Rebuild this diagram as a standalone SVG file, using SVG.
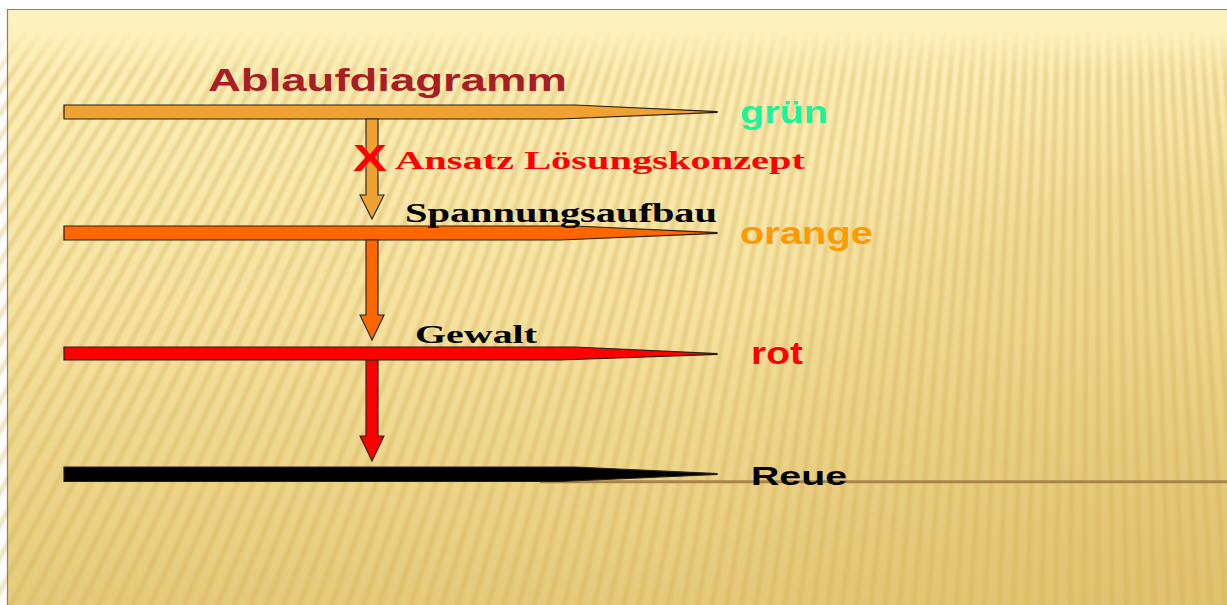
<svg xmlns="http://www.w3.org/2000/svg" width="1227" height="605" viewBox="0 0 1227 605">
  <defs>
    <linearGradient id="bg" x1="0" y1="9" x2="0" y2="605" gradientUnits="userSpaceOnUse">
      <stop offset="0" stop-color="#FDF2C0"/>
      <stop offset="0.1" stop-color="#FCEEB7"/>
      <stop offset="0.5" stop-color="#F6E3A2"/>
      <stop offset="1" stop-color="#E5CA7A"/>
    </linearGradient>
    <radialGradient id="shade" cx="1180" cy="560" r="520" gradientUnits="userSpaceOnUse">
      <stop offset="0" stop-color="#D8B860" stop-opacity="0.45"/>
      <stop offset="0.7" stop-color="#DDBE68" stop-opacity="0.25"/>
      <stop offset="1" stop-color="#E0C270" stop-opacity="0"/>
    </radialGradient>
    <linearGradient id="fadeTop" x1="0" y1="30" x2="0" y2="75" gradientUnits="userSpaceOnUse">
      <stop offset="0" stop-color="#000"/>
      <stop offset="1" stop-color="#fff"/>
    </linearGradient>
    <mask id="stripeMask">
      <rect x="0" y="0" width="1227" height="605" fill="url(#fadeTop)"/>
    </mask>
    <filter id="soft" x="-5%" y="-5%" width="110%" height="110%">
      <feGaussianBlur stdDeviation="1.3"/>
    </filter>
    <style>
      .bar { stroke: #2a2010; stroke-width: 1.2; stroke-linejoin: miter; }
      .arrow { stroke: #222; stroke-width: 1.1; stroke-linejoin: miter; }
      .sans { font-family: "Liberation Sans", Arial, sans-serif; font-weight: bold; }
      .serif { font-family: "Liberation Serif", "Times New Roman", serif; font-weight: bold; }
    </style>
  </defs>

  <!-- page -->
  <rect x="0" y="0" width="1227" height="605" fill="#ffffff"/>
  <rect x="7" y="9" width="1230" height="610" fill="url(#bg)"/>
  <rect x="7" y="9" width="1230" height="610" fill="url(#shade)"/>
  <!-- fanned background stripes -->
  <g mask="url(#stripeMask)" filter="url(#soft)">
    <circle cx="1100" cy="-1500" r="1937" fill="none" stroke="#D2AE50" stroke-opacity="0.34" stroke-width="900" stroke-dasharray="5 8"/>
  </g>
  <path d="M7.5 605 V9.5 H1227" fill="none" stroke="#808080" stroke-width="1.2"/>

  <!-- title -->
  <g id="title">
    <text class="sans" x="208" y="91" font-size="32" fill="#A51F24" textLength="359" lengthAdjust="spacingAndGlyphs">Ablaufdiagramm</text>
  </g>

  <!-- baseline behind the last stage -->
  <line x1="540" y1="481.7" x2="1227" y2="481.7" stroke="#A8844C" stroke-width="3"/>

  <!-- stages -->
  <g id="stage-gruen">
    <polygon class="bar" fill="#EFA232" points="64,105 575,105 717,111.6 717,112.4 560,119 64,119"/>
    <text class="sans" x="740" y="123" font-size="32" fill="#1CF29A" textLength="88" lengthAdjust="spacingAndGlyphs">grün</text>
  </g>
  <g id="stage-orange">
    <polygon class="bar" fill="#FF6600" points="64,226 575,226 717,232.6 717,233.4 560,240 64,240"/>
    <text class="sans" x="740" y="244" font-size="32" fill="#FF9900" textLength="133" lengthAdjust="spacingAndGlyphs">orange</text>
    <text class="serif" x="405" y="222" font-size="28" fill="#000" textLength="312" lengthAdjust="spacingAndGlyphs">Spannungsaufbau</text>
  </g>
  <g id="stage-rot">
    <polygon class="bar" fill="#FF0000" points="64,347 575,347 717,353.6 717,354.4 560,360 64,360"/>
    <text class="sans" x="751" y="364" font-size="31" fill="#FF0000" textLength="52" lengthAdjust="spacingAndGlyphs">rot</text>
    <text class="serif" x="415" y="343" font-size="25" fill="#000" textLength="122" lengthAdjust="spacingAndGlyphs">Gewalt</text>
  </g>
  <g id="stage-reue">
    <polygon class="bar" fill="#000000" points="64,467 575,467 717,473.6 717,474.4 560,481.5 64,481.5"/>
    <text class="sans" x="751" y="485" font-size="26" fill="#000" textLength="96" lengthAdjust="spacingAndGlyphs">Reue</text>
  </g>

  <!-- transitions between stages -->
  <g id="connectors">
    <polygon class="arrow" fill="#EFA232" points="366,119 378,119 378,195 384,195 372,219 360,195 366,195"/>
    <polygon class="arrow" fill="#FF6600" points="366,240 378,240 378,315 384,315 372,340 360,315 366,315"/>
    <polygon class="arrow" fill="#FF0000" points="366,360 378,360 378,436 384,436 372,461 360,436 366,436"/>
  </g>

  <!-- blocked transition note -->
  <g id="note-ansatz">
    <text class="sans" x="353" y="171" font-size="36" fill="#FF0000" textLength="34" lengthAdjust="spacingAndGlyphs">X</text>
    <text class="serif" x="395" y="169" font-size="26" fill="#FF0000" textLength="410" lengthAdjust="spacingAndGlyphs">Ansatz Lösungskonzept</text>
  </g>
</svg>
